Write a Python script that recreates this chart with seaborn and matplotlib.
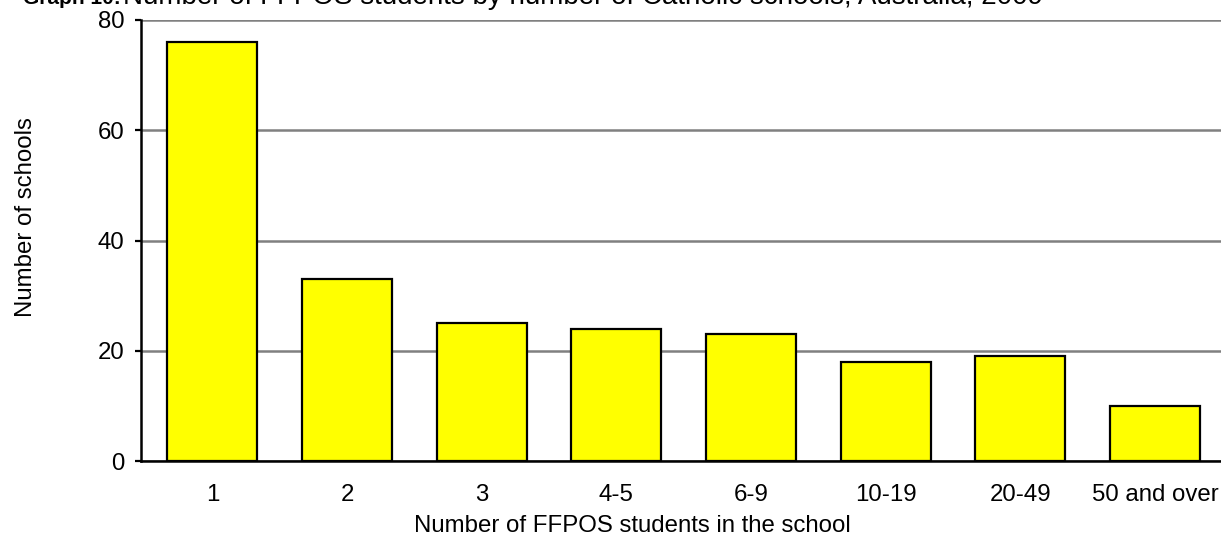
import matplotlib
matplotlib.use("Agg")
import matplotlib.pyplot as plt
import seaborn as sns
import pandas as pd

# data
categories = ['1', '2', '3', '4-5', '6-9', '10-19', '20-49', '50 and over']
schools = [76, 33, 25, 24, 23, 18, 19, 10]

df = pd.DataFrame({'students': categories, 'schools': schools})

sns.set_style('white')
plt.rcParams['font.family'] = ['Liberation Sans', 'DejaVu Sans']
plt.rcParams['text.color'] = 'black'
plt.rcParams['axes.labelcolor'] = 'black'
plt.rcParams['xtick.color'] = 'black'
plt.rcParams['ytick.color'] = 'black'

W, H = 1221, 539
fig = plt.figure(figsize=(W / 100, H / 100), dpi=100)
ax = fig.add_axes([141 / W, 1 - 461 / H, (W - 141) / W, (461 - 20) / H])

ax.set_axisbelow(True)
ax.yaxis.grid(True, color='#808080', linewidth=1.8)
sns.barplot(data=df, x='students', y='schools', color='#ffff00', saturation=1,
            width=0.67, edgecolor='black', linewidth=1.6, ax=ax)

ax.set_ylim(0, 80)
ax.set_xlim(-0.53, 7.49)
ax.set_yticks([0, 20, 40, 60, 80])
for s in ['top', 'right']:
    ax.spines[s].set_visible(False)
for s in ['left', 'bottom']:
    ax.spines[s].set_color('black')
    ax.spines[s].set_linewidth(1.8)
ax.tick_params(axis='y', which='both', left=True, length=4, width=1.6,
               labelsize=17.3, pad=8, color='black')
ax.tick_params(axis='x', bottom=False, labelsize=17.3, pad=13)

ax.set_xlabel('')
ax.set_ylabel('')
# axis titles sit where the original chart put them, not centred on the axes
fig.text(632 / W, 1 - 532 / H, 'Number of FFPOS students in the school',
         fontsize=17.3, ha='center', va='baseline')
fig.text(32 / W, 1 - 217 / H, 'Number of schools', fontsize=17.3,
         rotation=90, rotation_mode='anchor', ha='center', va='baseline')

# title is partly cut off at the top of the picture
fig.text(23 / W, 1 - 4 / H, 'Graph 10:', fontsize=15, fontweight='bold',
         va='baseline', ha='left')
fig.text(123 / W, 1 - 4 / H,
         'Number of FFPOS students by number of Catholic schools, Australia, 2009',
         fontsize=20, va='baseline', ha='left')

fig.savefig('out.png', dpi=100)
